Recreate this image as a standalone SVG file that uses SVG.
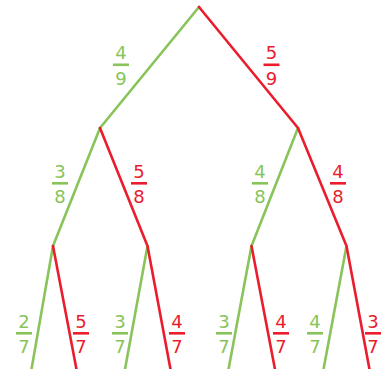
<svg xmlns="http://www.w3.org/2000/svg" width="382" height="369" viewBox="0 0 382 369">
<style>
.g{stroke:#88c45a}
.r{stroke:#ea1c2d}
line{stroke-width:2.6;stroke-linecap:round;fill:none}
text{font-family:"DejaVu Sans",Verdana,sans-serif;font-size:18px;text-anchor:middle}
.tg{fill:#88c45a}
.tr{fill:#ea1c2d}
.bg{fill:#88c45a}
.br{fill:#ea1c2d}
</style>
<rect width="382" height="369" fill="#ffffff"/>
<g id="connectors">
<line class="g" x1="199" y1="7" x2="100" y2="128"/>
<line class="r" x1="199" y1="7" x2="298" y2="128"/>
<line class="g" x1="100" y1="128" x2="53" y2="246"/>
<line class="r" x1="100" y1="128" x2="147.5" y2="246"/>
<line class="g" x1="298" y1="128" x2="251.5" y2="246"/>
<line class="r" x1="298" y1="128" x2="346.5" y2="246"/>
<line class="g" x1="53" y1="246" x2="31" y2="372"/>
<line class="r" x1="53" y1="246" x2="77" y2="372"/>
<line class="g" x1="147.5" y1="246" x2="124.5" y2="372"/>
<line class="r" x1="147.5" y1="246" x2="171" y2="372"/>
<line class="g" x1="251.5" y1="246" x2="228" y2="372"/>
<line class="r" x1="251.5" y1="246" x2="275.5" y2="372"/>
<line class="g" x1="346.5" y1="246" x2="323" y2="372"/>
<line class="r" x1="346.5" y1="246" x2="370" y2="372"/>
</g>
<g id="p1"><text class="tg" x="121" y="58.5">4</text><rect class="bg" x="113" y="63.5" width="16" height="2.6"/><text class="tg" x="121" y="84.5">9</text></g>
<g id="p2"><text class="tr" x="271.5" y="58.5">5</text><rect class="br" x="263.5" y="63.5" width="16" height="2.6"/><text class="tr" x="271.5" y="84.5">9</text></g>
<g id="p3"><text class="tg" x="60" y="177.5">3</text><rect class="bg" x="52" y="182" width="16" height="2.6"/><text class="tg" x="60" y="203">8</text></g>
<g id="p4"><text class="tr" x="139" y="177.5">5</text><rect class="br" x="131" y="182" width="16" height="2.6"/><text class="tr" x="139" y="203">8</text></g>
<g id="p5"><text class="tg" x="260" y="177.5">4</text><rect class="bg" x="252" y="182" width="16" height="2.6"/><text class="tg" x="260" y="203">8</text></g>
<g id="p6"><text class="tr" x="338" y="177.5">4</text><rect class="br" x="330" y="182" width="16" height="2.6"/><text class="tr" x="338" y="203">8</text></g>
<g id="p7"><text class="tg" x="24" y="327.5">2</text><rect class="bg" x="16" y="332" width="16" height="2.6"/><text class="tg" x="24" y="352.5">7</text></g>
<g id="p8"><text class="tr" x="81" y="327.5">5</text><rect class="br" x="73" y="332" width="16" height="2.6"/><text class="tr" x="81" y="352.5">7</text></g>
<g id="p9"><text class="tg" x="120" y="327.5">3</text><rect class="bg" x="112" y="332" width="16" height="2.6"/><text class="tg" x="120" y="352.5">7</text></g>
<g id="p10"><text class="tr" x="177" y="327.5">4</text><rect class="br" x="169" y="332" width="16" height="2.6"/><text class="tr" x="177" y="352.5">7</text></g>
<g id="p11"><text class="tg" x="224" y="327.5">3</text><rect class="bg" x="216" y="332" width="16" height="2.6"/><text class="tg" x="224" y="352.5">7</text></g>
<g id="p12"><text class="tr" x="281" y="327.5">4</text><rect class="br" x="273" y="332" width="16" height="2.6"/><text class="tr" x="281" y="352.5">7</text></g>
<g id="p13"><text class="tg" x="315" y="327.5">4</text><rect class="bg" x="307" y="332" width="16" height="2.6"/><text class="tg" x="315" y="352.5">7</text></g>
<g id="p14"><text class="tr" x="373" y="327.5">3</text><rect class="br" x="365" y="332" width="16" height="2.6"/><text class="tr" x="373" y="352.5">7</text></g>
</svg>
